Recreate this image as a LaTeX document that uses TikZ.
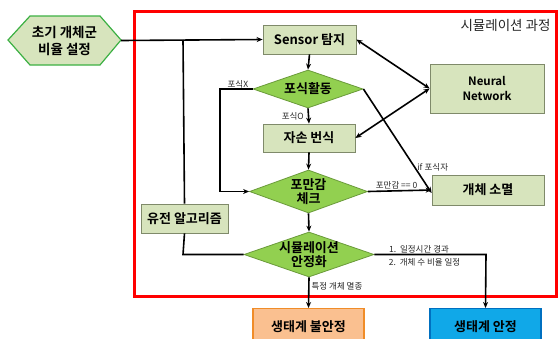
\documentclass[tikz,border=0pt]{standalone}
\usepackage{fontspec}
\setmainfont{Noto Sans CJK KR}
\newfontfamily\kb{Noto Sans CJK KR Bold}
\usetikzlibrary{shapes.geometric,arrows.meta,calc}
\definecolor{boxfill}{HTML}{D7E4BD}
\definecolor{boxline}{HTML}{7F8A6A}
\definecolor{dfill}{HTML}{92D050}
\definecolor{dline}{HTML}{6A9A3A}
\definecolor{hexline}{HTML}{3CB043}
\definecolor{ofill}{HTML}{FAC090}
\definecolor{oline}{HTML}{F08C28}
\definecolor{bfill}{HTML}{10A8E8}
\definecolor{bline}{HTML}{0070C0}
\tikzset{
  x=1pt, y=-1pt,
  gbox/.style={draw=boxline, fill=boxfill, line width=0.8pt, inner sep=0pt, font=\kb\fontsize{13}{15}\selectfont, align=center},
  dia/.style={diamond, draw=dline, fill=dfill, line width=0.8pt, aspect=2.8, inner xsep=-16pt, inner ysep=0pt, font=\kb\fontsize{13}{14.5}\selectfont, align=center},
  flow/.style={line width=1.6pt, -{Stealth[length=6pt,width=5pt]}},
  flow2/.style={line width=1.6pt, {Stealth[length=6pt,width=5pt]}-{Stealth[length=6pt,width=5pt]}},
  plain/.style={line width=1.6pt},
  small/.style={font=\fontsize{8.5}{10}\selectfont, inner sep=1pt, text=black!85},
}
\begin{document}
\begin{tikzpicture}
\useasboundingbox (0,0) rectangle (559,338);
% red process frame
\draw[red, line width=3pt] (134,11) rectangle (556,296);
\node[anchor=east, font=\fontsize{13.5}{15}\selectfont, text=black!85] (title) at (554,25) {시뮬레이션 과정};

% hexagon start
\draw[draw=hexline, fill=boxfill, line width=1.2pt] (8,40) -- (30,16) -- (100,16) -- (121,40) -- (100,65) -- (30,65) -- cycle;
\node[font=\kb\fontsize{13.5}{17}\selectfont, align=center, minimum width=113pt, minimum height=49pt, inner sep=0pt] (init) at (64.5,40.5) {초기 개체군\\비율 설정};

% main nodes
\node[gbox, minimum width=93pt, minimum height=29pt] (sensor) at (309.5,39.5) {Sensor 탐지};
\node[dia, minimum width=110pt, minimum height=38pt] (eat) at (308,89) {포식활동};
\node[gbox, minimum width=92pt, minimum height=28pt] (breed) at (309,138) {자손 번식};
\node[dia, minimum width=118pt, minimum height=43pt] (full) at (308.5,191.5) {포만감\\체크};
\node[dia, minimum width=130pt, minimum height=45pt] (stab) at (309,254.5) {시뮬레이션\\안정화};
\node[gbox, minimum width=114pt, minimum height=49pt, font=\kb\fontsize{11.5}{15}\selectfont] (nn) at (487,88.5) {Neural\\Network};
\node[gbox, minimum width=112pt, minimum height=30pt] (die) at (488,190) {개체 소멸};
\node[gbox, minimum width=87pt, minimum height=29pt] (ga) at (184.5,218.5) {유전 알고리즘};
\node[draw=oline, fill=ofill, line width=1.2pt, minimum width=111pt, minimum height=36pt, inner sep=0pt, font=\kb\fontsize{13}{15}\selectfont, anchor=north] (unstable) at (308.5,308) {생태계 불안정};
\node[draw=bline, fill=bfill, line width=1.2pt, minimum width=111pt, minimum height=36pt, inner sep=0pt, font=\kb\fontsize{13}{15}\selectfont, anchor=north] (stable) at (485.5,308) {생태계 안정};

% coordinates
\coordinate (j1) at (183,40);
\coordinate (xl) at (220,89);
\coordinate (xb) at (220,191.5);
\coordinate (gb) at (183,254.5);
\coordinate (sr) at (486,254.5);

% connectors
\draw[flow] (init.east) -- (sensor.west);
\draw[plain] (j1) -- (ga.north);
\draw[plain] (ga.south) -- (gb) -- (stab.west);
\draw[flow] (sensor.south) -- (eat.north);
\draw[flow] (eat.south) -- node[small, left, pos=0.5, xshift=-3pt]{포식O} (breed.north);
\draw[flow] (eat.west) -- node[small, above, pos=0.45, yshift=-1pt]{포식X} (xl) -- (xb) -- (full.west);
\draw[flow] (breed.south) -- (full.north);
\draw[flow] (full.south) -- (stab.north);
\draw[flow] (full.east) -- node[small, above, pos=0.45]{포만감 == 0} (die.west);
\draw[flow] (eat.east) -- node[small, right, pos=0.75, xshift=1pt]{\textit{if} 포식자} ([yshift=-3pt]die.west);
\draw[flow2] (sensor.east) -- (nn.west);
\draw[flow2] (breed.east) -- (nn.west);
\draw[flow] (stab.east) -- node[small, above, pos=0.4]{1.~~일정시간 경과} node[small, below, pos=0.45, yshift=-2pt]{2.~~개체 수 비율 일정} (sr) -- (stable.north);
\draw[flow] (stab.south) -- node[small, right, pos=0.3, xshift=1pt]{특정 개체 멸종} (unstable.north);
\end{tikzpicture}
\end{document}
